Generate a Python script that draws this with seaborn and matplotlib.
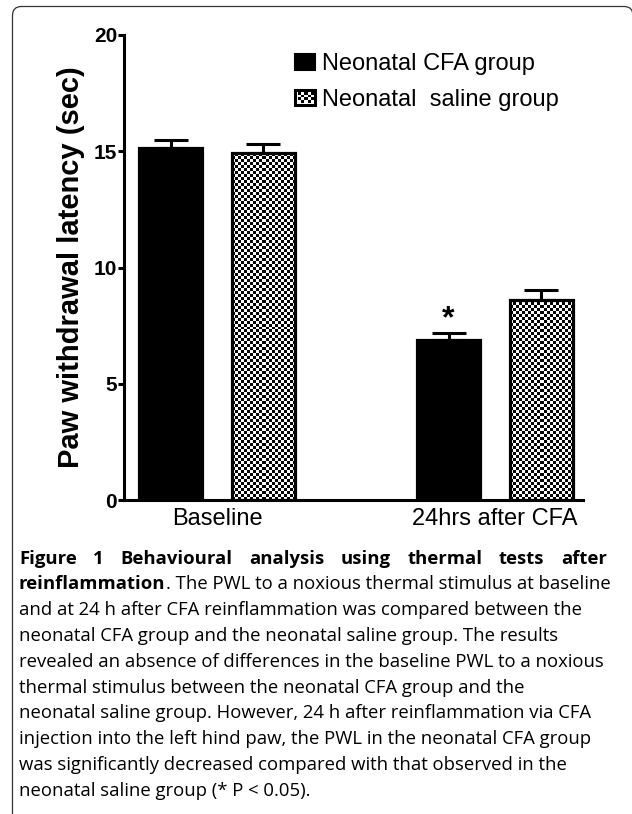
import numpy as np
import pandas as pd
import seaborn as sns
import matplotlib
matplotlib.use("Agg")
import matplotlib.pyplot as plt
from matplotlib.patches import FancyBboxPatch, Rectangle
from matplotlib.transforms import IdentityTransform, Bbox
from matplotlib.image import BboxImage

# ---------------- data ----------------
timepoints = ["Baseline", "24hrs after CFA"]
groups = ["Neonatal CFA group", "Neonatal  saline group"]
cfa_mean = [15.14, 6.87]
cfa_sem = [0.35, 0.31]
saline_mean = [14.92, 8.61]
saline_sem = [0.39, 0.43]
y_ticks = [0, 5, 10, 15, 20]
y_label = "Paw withdrawal latency (sec)"
sig_marker = "*"

caption_bold_1 = "Figure 1 Behavioural analysis using thermal tests after"
caption_bold_2 = "reinflammation"
caption_rest_2 = ". The PWL to a noxious thermal stimulus at baseline"
caption_lines = [
    "and at 24 h after CFA reinflammation was compared between the",
    "neonatal CFA group and the neonatal saline group. The results",
    "revealed an absence of differences in the baseline PWL to a noxious",
    "thermal stimulus between the neonatal CFA group and the",
    "neonatal saline group. However, 24 h after reinflammation via CFA",
    "injection into the left hind paw, the PWL in the neonatal CFA group",
    "was significantly decreased compared with that observed in the",
    "neonatal saline group (* P < 0.05).",
]

# ---------------- setup ----------------
W, H, DPI = 632, 814, 100
sns.set_theme(style="ticks")
plt.rcParams['font.family'] = ['Liberation Sans', 'DejaVu Sans']
plt.rcParams.update({"text.color": "black", "axes.labelcolor": "black",
                     "xtick.color": "black", "ytick.color": "black",
                     "axes.edgecolor": "black"})

df = pd.DataFrame({
    "time": timepoints * 2,
    "group": [groups[0]] * 2 + [groups[1]] * 2,
    "latency": cfa_mean + saline_mean,
})

fig = plt.figure(figsize=(W / DPI, H / DPI), dpi=DPI)
fig.patch.set_facecolor("white")
ax = fig.add_axes([124 / W, 1 - 500 / H, (583 - 124) / W, (500 - 35) / H])

sns.barplot(data=df, x="time", y="latency", hue="group", order=timepoints,
            hue_order=groups, palette=["black", "white"], width=0.668, gap=0.32,
            errorbar=None, saturation=1, edgecolor="black", linewidth=2.3,
            ax=ax, legend=False)

ax.set_xlim(-0.335, 1.317)
ax.set_ylim(0, 20)


def checker(nx, ny):
    return (np.add.outer(np.arange(ny), np.arange(nx)) % 2).astype(float)


conts = list(ax.containers)
def is_black(c):
    return c.patches[0].get_facecolor()[0] < 0.5
cfa_cont = [c for c in conts if is_black(c)][0]
sal_cont = [c for c in conts if not is_black(c)][0]

# checker fill for saline bars
for bar in sal_cont.patches:
    bar.set_facecolor("none")
    x0, w, h = bar.get_x(), bar.get_width(), bar.get_height()
    p0 = ax.transData.transform((x0, 0))
    p1 = ax.transData.transform((x0 + w, h))
    nx = max(1, int(round((p1[0] - p0[0]) / 3.0)))
    ny = max(1, int(round((p1[1] - p0[1]) / 3.0)))
    ax.imshow(checker(nx, ny), cmap="gray", vmin=0, vmax=1,
              extent=(x0, x0 + w, 0, h), aspect="auto",
              interpolation="nearest", origin="lower",
              zorder=bar.get_zorder() - 0.5)

ax.set_xlim(-0.335, 1.317)
ax.set_ylim(0, 20)

# error bars (upper only)
for cont, sems in ((cfa_cont, cfa_sem), (sal_cont, saline_sem)):
    for bar in cont.patches:
        xc = bar.get_x() + bar.get_width() / 2
        idx = int(round(xc))
        yt = bar.get_height()
        ax.errorbar([xc], [yt], yerr=[[0], [sems[idx]]], fmt="none",
                    ecolor="black", elinewidth=2.2, capsize=12, capthick=2.2,
                    zorder=3)
        if cont is cfa_cont and idx == 1:
            ax.annotate(sig_marker, xy=(xc, yt + sems[idx]), xytext=(0, 4.0),
                        textcoords="offset points", ha="center", va="baseline",
                        fontsize=23, fontweight="bold")

# axes styling
sns.despine(ax=ax)
for s in ("left", "bottom"):
    ax.spines[s].set_linewidth(2.2)
    ax.spines[s].set_color("black")
ax.set_yticks(y_ticks)
ax.set_yticklabels([str(v) for v in y_ticks], fontweight="bold", fontsize=15)
ax.tick_params(axis="y", length=4.5, width=2.2, pad=0.5)
ax.tick_params(axis="x", length=0, pad=6, labelsize=17)
ax.set_xlabel("")
ax.set_ylabel(y_label, fontsize=21, fontweight="bold", labelpad=6)

# legend
handles = [Rectangle((0, 0), 1, 1, facecolor="black", edgecolor="black", linewidth=1.5),
           Rectangle((0, 0), 1, 1, facecolor="white", edgecolor="black", linewidth=2.2)]
leg = ax.legend(handles, groups, loc="upper left",
                bbox_to_anchor=(295 / W, 1 - 53 / H), bbox_transform=fig.transFigure,
                frameon=False, fontsize=17, handlelength=0.85, handleheight=0.64,
                handletextpad=0.3, labelspacing=0.58, borderpad=0, borderaxespad=0)

# frame around figure
frame = FancyBboxPatch((12.5, -40), 633 - 12.5, (H - 6.5) + 40,
                       boxstyle="round,pad=0,rounding_size=9",
                       transform=IdentityTransform(), facecolor="none",
                       edgecolor="#333333", linewidth=0.9)
fig.add_artist(frame)

# caption
renderer = fig.canvas.get_renderer()
cap_font = ["Open Sans", "DejaVu Sans"]
x_left, x_right = 19, 607


def measure(txt, fs, weight="normal"):
    t = fig.text(0, 0, txt, fontsize=fs, family=cap_font, fontweight=weight)
    wd = t.get_window_extent(renderer).width
    t.remove()
    return wd


fit5 = 12 * (x_right - x_left) / measure(caption_lines[2], 12)
fit2 = 12 * (x_right - x_left) / (measure(caption_bold_2, 12, "bold") + measure(caption_rest_2, 12))
cap_fs = min(fit5, fit2)

line_gap = 25.8
first_center = 558
def base_y(k):
    return first_center + line_gap * k + 0.3 * cap_fs * DPI / 72

def fx(px):
    return px / W

def fy(py):
    return 1 - py / H

# line 1 (bold, justified)
words = caption_bold_1.split(" ")
widths = [measure(wd, cap_fs, "bold") for wd in words]
space = ((x_right - x_left) - sum(widths)) / (len(words) - 1)
xp = x_left
for wd, wdt in zip(words, widths):
    fig.text(fx(xp), fy(base_y(0)), wd, fontsize=cap_fs, family=cap_font,
             fontweight="bold", va="baseline", ha="left")
    xp += wdt + space

# line 2 (bold + regular)
t = fig.text(fx(x_left), fy(base_y(1)), caption_bold_2, fontsize=cap_fs,
             family=cap_font, fontweight="bold", va="baseline", ha="left")
bw = t.get_window_extent(renderer).width
fig.text(fx(x_left + bw), fy(base_y(1)), caption_rest_2, fontsize=cap_fs,
         family=cap_font, va="baseline", ha="left")

for k, line in enumerate(caption_lines):
    fig.text(fx(x_left), fy(base_y(k + 2)), line, fontsize=cap_fs,
             family=cap_font, va="baseline", ha="left")

# checker overlay on legend handle
fig.canvas.draw()
hb = leg.legend_handles[1].get_window_extent(renderer)
inner = Bbox.from_extents(hb.x0 + 2.5, hb.y0 + 2.5, hb.x1 - 2.5, hb.y1 - 2.5)
img = BboxImage(inner, cmap="gray", interpolation="nearest")
img.set_data(checker(max(1, int(round(inner.width / 3))), max(1, int(round(inner.height / 3)))))
img.set_clim(0, 1)
img.set_zorder(10)
fig.add_artist(img)

fig.savefig("out.png", dpi=DPI)
